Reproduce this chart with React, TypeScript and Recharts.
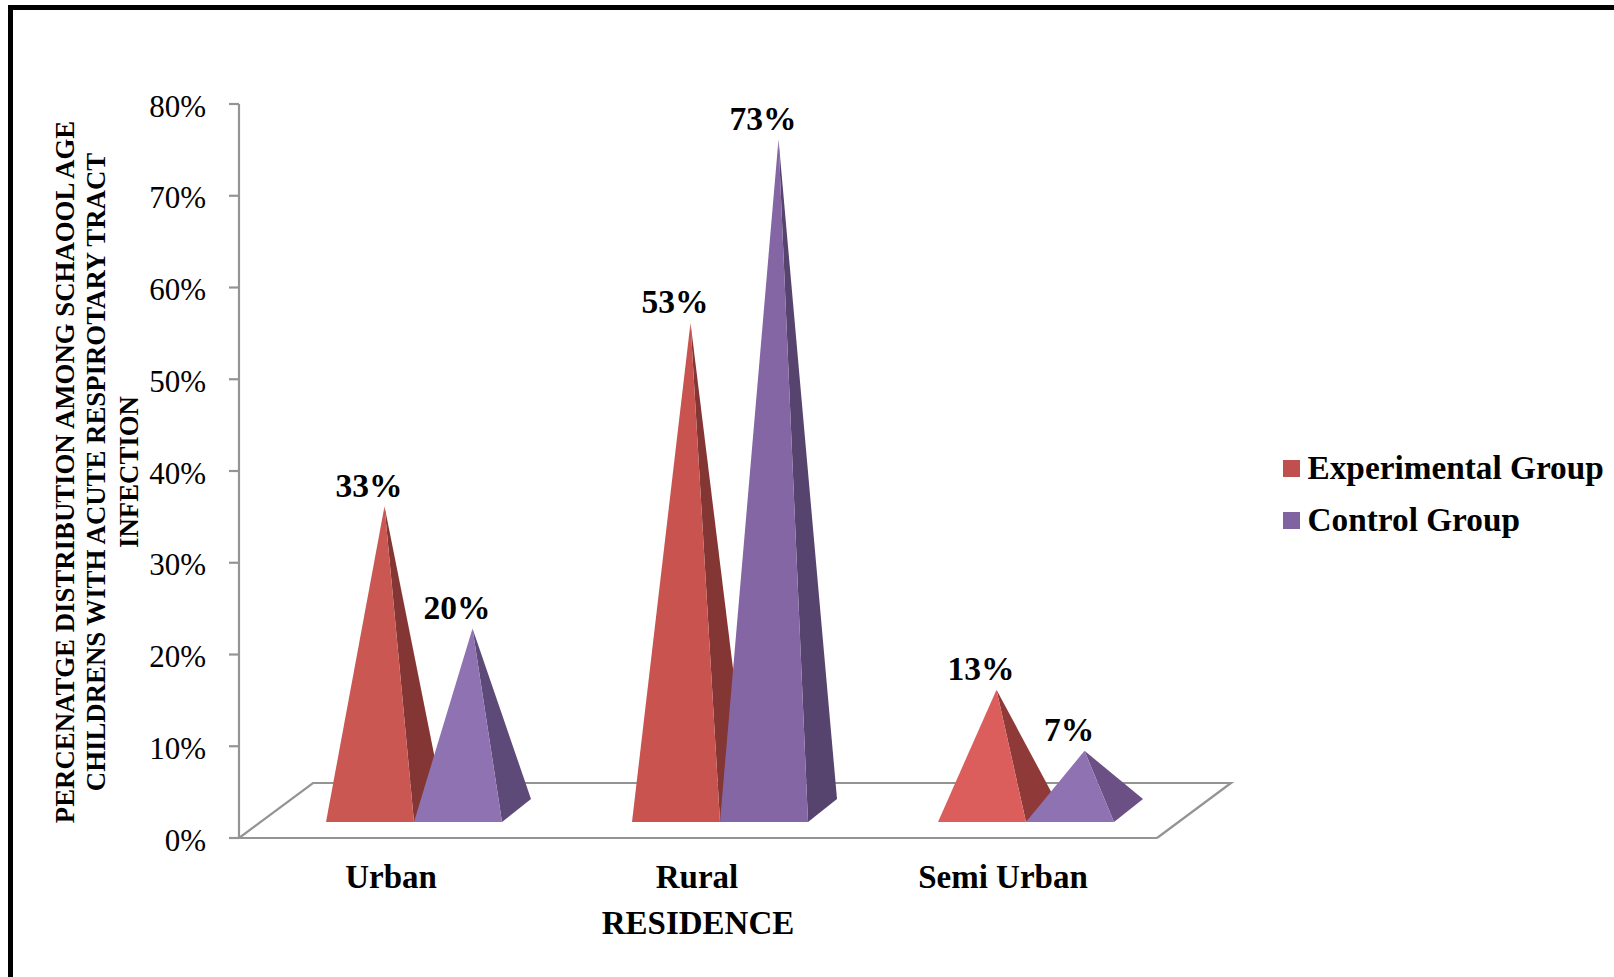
import { BarChart, Bar, XAxis, YAxis, LabelList, Legend } from "recharts";

const categories = ["Urban", "Rural", "Semi Urban"];
const experimentalValues = [33.33, 53.33, 13.33];
const controlValues = [20, 73.33, 6.67];
const yTicks = [0, 10, 20, 30, 40, 50, 60, 70, 80];
const yTitleLines = [
  "PERCENATGE DISTRIBUTION AMONG SCHAOOL AGE",
  "CHILDRENS WITH ACUTE RESPIROTARY TRACT",
  "INFECTION",
];

// face colours per category, the picture shades each pyramid a little differently
const experimentalFront = ["#CB5752", "#C9544F", "#DB5E5C"];
const experimentalSide = ["#843634", "#843634", "#8F3A38"];
const controlFront = ["#8F72B2", "#8566A5", "#8F72B2"];
const controlSide = ["#5D4A78", "#56436E", "#6A5084"];

const data = categories.map((name, i) => ({
  name,
  experimental: experimentalValues[i],
  control: controlValues[i],
}));

const FONT = "'Liberation Serif', 'Times New Roman', serif";
const AXIS_COLOR = "#949494";

const plotLeft = 239;
const plotTop = 104;
const plotRight = 1157;
const plotBottom = 838;
const legendWidth = 331;

// fake 3d floor depth, and where the pyramid base sits on it
const floorDx = 74;
const floorDy = 55;
const baseShiftX = 22;
const baseShiftY = 16;
const baseDx = 29;
const baseDy = 23;
const tipRise = 26;

function pyramid(front: string[], side: string[]) {
  return (props: any) => {
    const { x, y, width, height, index } = props;
    const left = x + baseShiftX;
    const right = left + width;
    const base = y + height - baseShiftY;
    const tipX = left + width / 2 + baseDx / 2;
    const tipY = y - tipRise;
    return (
      <g>
        <polygon
          points={`${tipX},${tipY} ${right},${base} ${right + baseDx},${base - baseDy}`}
          fill={side[index]}
        />
        <polygon
          points={`${tipX},${tipY} ${left},${base} ${right},${base}`}
          fill={front[index]}
        />
      </g>
    );
  };
}

function valueLabel(props: any) {
  const { x, y, width, value } = props;
  return (
    <text
      x={x + baseShiftX + width / 2 - 1}
      y={y - tipRise - 21}
      textAnchor="middle"
      dominantBaseline="central"
      fontFamily={FONT}
      fontWeight="bold"
      fontSize={33.5}
      fill="#000"
    >
      {Math.round(value)}%
    </text>
  );
}

function LegendBox() {
  const items = [
    { label: "Experimental Group", color: "#C0504D" },
    { label: "Control Group", color: "#8064A2" },
  ];
  return (
    <div style={{ fontFamily: FONT, fontWeight: "bold", fontSize: 33.3, color: "#000" }}>
      {items.map((it) => (
        <div key={it.label} style={{ display: "flex", alignItems: "center", height: 52, whiteSpace: "nowrap" }}>
          <span style={{ width: 17, height: 17, background: it.color, marginRight: 7.5, display: "inline-block" }} />
          {it.label}
        </div>
      ))}
    </div>
  );
}

export default function App() {
  const axisWidth = 150;
  const titleX = [65, 96, 129];
  const titleY = 472;
  return (
    <div style={{ position: "absolute", left: 0, top: 0, width: 1614, height: 977, background: "#fff", overflow: "hidden" }}>
      <div
        style={{
          position: "absolute",
          left: 8,
          top: 5,
          right: 0,
          bottom: 0,
          borderTop: "5px solid #000",
          borderLeft: "5px solid #000",
        }}
      />
      <BarChart
        width={1614}
        height={977}
        data={data}
        margin={{ top: plotTop, left: plotLeft - axisWidth, right: 1614 - plotRight - legendWidth, bottom: 0 }}
        barSize={88}
        barGap={0}
        style={{ position: "absolute", left: 0, top: 0 }}
      >
        <polyline
          points={`${plotLeft},${plotBottom} ${plotLeft + floorDx},${plotBottom - floorDy} ${plotRight + floorDx},${plotBottom - floorDy} ${plotRight},${plotBottom}`}
          fill="none"
          stroke={AXIS_COLOR}
          strokeWidth={2.2}
        />
        <XAxis
          dataKey="name"
          height={977 - plotBottom}
          interval={0}
          tickLine={false}
          axisLine={{ stroke: AXIS_COLOR, strokeWidth: 2.2 }}
          tick={{ fontFamily: FONT, fontWeight: "bold", fontSize: 33, fill: "#000", dx: -1 }}
          tickMargin={21}
          label={{
            value: "RESIDENCE",
            position: "insideTop",
            offset: 73,
            style: { fontFamily: FONT, fontWeight: "bold", fontSize: 33, fill: "#000" },
          }}
        />
        <YAxis
          width={axisWidth}
          domain={[0, 80]}
          ticks={yTicks}
          interval={0}
          tickFormatter={(v: number) => `${v}%`}
          tickSize={10}
          tickMargin={23}
          tickLine={{ stroke: AXIS_COLOR, strokeWidth: 2.2 }}
          axisLine={{ stroke: AXIS_COLOR, strokeWidth: 2.2 }}
          tick={{ fontFamily: FONT, fontSize: 31, fill: "#000", dy: 1.5 }}
        />
        <Bar dataKey="experimental" name="Experimental Group" isAnimationActive={false} shape={pyramid(experimentalFront, experimentalSide)}>
          <LabelList dataKey="experimental" content={valueLabel} />
        </Bar>
        <Bar dataKey="control" name="Control Group" isAnimationActive={false} shape={pyramid(controlFront, controlSide)}>
          <LabelList dataKey="control" content={valueLabel} />
        </Bar>
        <Legend
          layout="vertical"
          align="right"
          verticalAlign="top"
          content={LegendBox}
          wrapperStyle={{ left: 1283, top: 442, width: legendWidth }}
        />
        {yTitleLines.map((line, i) => (
          <text
            key={line}
            transform={`translate(${titleX[i]},${titleY}) rotate(-90)`}
            textAnchor="middle"
            dominantBaseline="central"
            fontFamily={FONT}
            fontWeight="bold"
            fontSize={26.8}
            fill="#000"
          >
            {line}
          </text>
        ))}
      </BarChart>
    </div>
  );
}
